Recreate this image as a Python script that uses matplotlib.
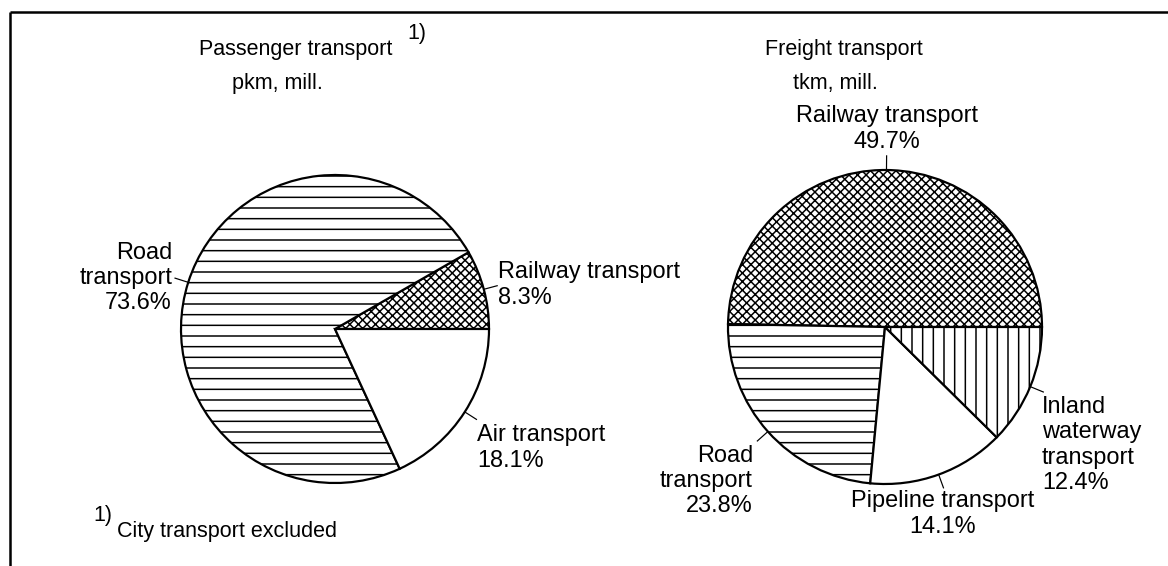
import matplotlib
matplotlib.use('agg')
import matplotlib.pyplot as plt
import numpy as np

# values
passenger_names = ['Railway transport', 'Road\ntransport', 'Air transport']
passenger_share = [8.3, 73.6, 18.1]
passenger_hatch = ['xxxxx', '--', '']

freight_names = ['Railway transport', 'Road\ntransport', 'Pipeline transport',
                 'Inland\nwaterway\ntransport']
freight_share = [49.7, 23.8, 14.1, 12.4]
freight_hatch = ['xxxxx', '--', '', '||']

W, H, DPI = 1168, 566, 128

plt.rcParams['font.family'] = ['Liberation Sans', 'DejaVu Sans']
plt.rcParams['hatch.linewidth'] = 0.85


def pt(pixels):
    return pixels * 72 / DPI


LABEL_FS = pt(23.5)
TITLE_FS = pt(21.5)

fig = plt.figure(figsize=(W / DPI, H / DPI), dpi=DPI)
ax = fig.add_axes([0, 0, 1, 1])


def draw_pie(center, radius, shares, hatches, names, label_pos):
    wedges, _ = ax.pie(shares, center=center, radius=radius, startangle=0,
                       counterclock=False, colors=['white'] * len(shares),
                       hatch=hatches,
                       wedgeprops=dict(edgecolor='black', linewidth=pt(2.2)))
    cx, cy = center
    for w, name, share, (tx, ty, ha) in zip(wedges, names, shares, label_pos):
        mid = np.deg2rad((w.theta1 + w.theta2) / 2)
        ax.plot([cx + radius * np.cos(mid), cx + 1.09 * radius * np.cos(mid)],
                [cy + radius * np.sin(mid), cy + 1.09 * radius * np.sin(mid)],
                color='black', lw=pt(1.2))
        ax.text(tx, ty, f'{name}\n{share}%', ha=ha, va='center',
                multialignment=ha, fontsize=LABEL_FS, linespacing=1.18)


draw_pie((335, 329), 154, passenger_share, passenger_hatch, passenger_names,
         [(498, 285, 'left'), (172, 278, 'right'), (477, 448, 'left')])
draw_pie((885, 327), 157, freight_share, freight_hatch, freight_names,
         [(887, 129, 'center'), (753, 481, 'right'), (943, 514, 'center'),
          (1042, 445, 'left')])

ax.text(296, 50, 'Passenger transport', ha='center', va='center', fontsize=TITLE_FS)
ax.text(407, 34, '1)', ha='left', va='center', fontsize=TITLE_FS)
ax.text(277, 83, 'pkm, mill.', ha='center', va='center', fontsize=TITLE_FS)
ax.text(844, 50, 'Freight transport', ha='center', va='center', fontsize=TITLE_FS)
ax.text(835, 83, 'tkm, mill.', ha='center', va='center', fontsize=TITLE_FS)
ax.text(93, 515, '1)', ha='left', va='center', fontsize=TITLE_FS)
ax.text(117, 531, 'City transport excluded', ha='left', va='center', fontsize=TITLE_FS)

# frame (only top and left edge visible in the original crop)
ax.plot([10, W], [12, 12], color='black', lw=pt(2.5), solid_capstyle='butt')
ax.plot([10, 10], [12, H], color='black', lw=pt(2.5), solid_capstyle='butt')

ax.set_xlim(0, W)
ax.set_ylim(H, 0)
ax.axis('off')

fig.savefig('out.png', dpi=DPI)
